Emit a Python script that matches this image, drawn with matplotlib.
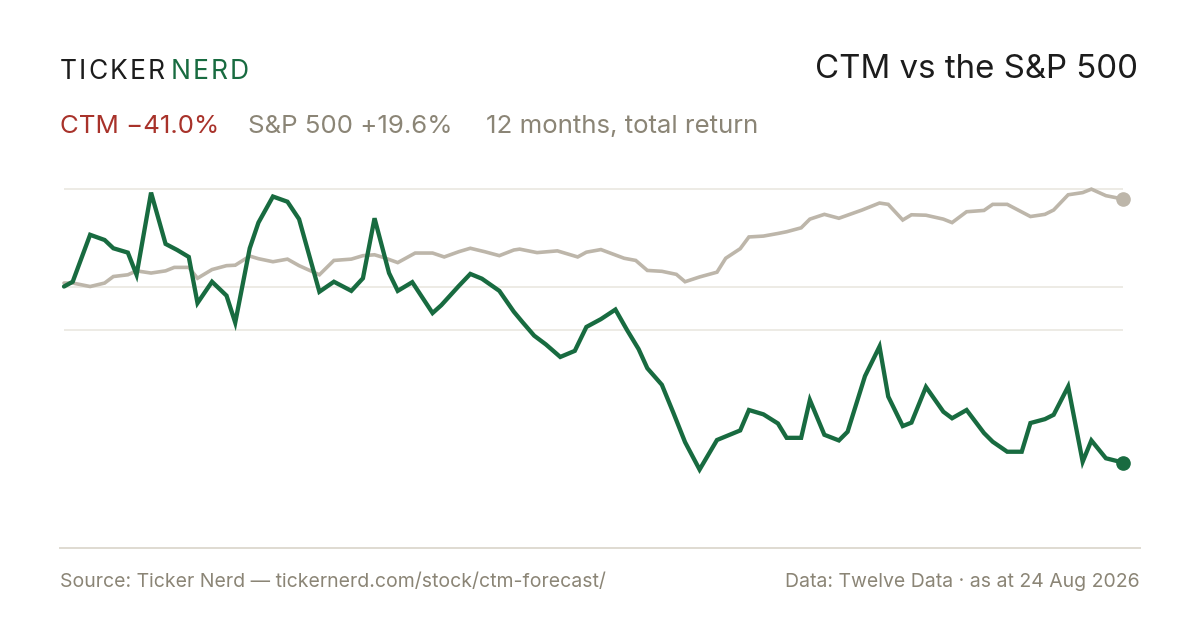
import matplotlib
matplotlib.use("Agg")
import matplotlib.pyplot as plt
from matplotlib.lines import Line2D

# ---------------- data ----------------
ctm_days = [0, 3, 9, 14, 17, 22, 25, 30, 35, 39, 43, 46, 51, 56, 59, 64, 67, 72, 77, 81,
            88, 93, 99, 103, 107, 112, 115, 120, 127, 130, 136, 140, 144, 150, 155, 158,
            162, 166, 171, 176, 180, 185, 190, 194, 198, 201, 206, 210, 214, 219, 225,
            233, 236, 241, 246, 249, 254, 257, 262, 267, 270, 276, 281, 284, 289, 292,
            297, 303, 306, 311, 317, 320, 325, 330, 333, 338, 341, 346, 351, 354, 359, 365]
ctm_ret = [-0.5, 0.6, 11.4, 10.2, 8.3, 7.3, 2.2, 21.1, 9.3, 7.9, 6.3, -4.3, 0.6, -2.6, -8.8,
           8.3, 14.2, 20.2, 19.0, 15.0, -1.7, 0.6, -1.5, 1.4, 15.2, 2.6, -1.5, 0.5, -6.6,
           -4.8, -0.4, 2.4, 1.3, -1.5, -6.3, -8.7, -11.8, -13.8, -16.7, -15.3, -9.8, -8.0,
           -5.8, -10.5, -14.9, -19.3, -23.1, -29.6, -36.3, -42.6, -35.8, -33.6, -28.9,
           -29.9, -32.0, -35.3, -35.3, -26.6, -34.6, -35.9, -33.9, -21.1, -14.3, -25.8,
           -32.6, -31.8, -23.6, -29.3, -30.8, -28.9, -34.2, -36.2, -38.5, -38.5, -31.9,
           -31.0, -30.0, -23.5, -40.8, -35.9, -40.0, -41.0]

spx_days = [0, 3, 9, 14, 17, 22, 25, 30, 35, 38, 43, 46, 51, 56, 59, 64, 67, 72, 77, 81,
            88, 93, 99, 103, 107, 110, 115, 121, 127, 131, 136, 140, 145, 150, 155, 157,
            163, 170, 177, 180, 185, 189, 193, 197, 201, 206, 211, 214, 219, 225, 228,
            233, 236, 241, 246, 249, 254, 257, 262, 267, 275, 281, 284, 289, 292, 297,
            303, 306, 311, 317, 320, 325, 329, 333, 338, 341, 346, 351, 354, 359, 365]
spx_ret = [0.3, 0.3, -0.5, 0.3, 1.8, 2.2, 3.1, 2.6, 3.1, 3.9, 3.9, 1.4, 3.4, 4.3, 4.4, 6.5,
           5.9, 5.2, 5.8, 4.3, 2.2, 5.5, 5.8, 6.6, 6.8, 6.2, 5.0, 7.2, 7.2, 6.3, 7.5, 8.3,
           7.5, 6.6, 7.9, 8.1, 7.3, 7.7, 6.3, 7.4, 8.0, 7.0, 6.0, 5.5, 3.2, 3.0, 2.3, 0.6,
           1.7, 2.8, 6.0, 8.2, 10.9, 11.1, 11.7, 12.1, 13.0, 15.0, 16.1, 15.2, 17.1, 18.7,
           18.4, 14.8, 16.0, 15.9, 15.0, 14.2, 16.7, 17.0, 18.4, 18.4, 17.0, 15.6, 16.1,
           17.1, 20.6, 21.1, 21.9, 20.4, 19.6]

grid_levels = [21.9, -0.5, -10.4]

brand_left = "TICKER"
brand_right = "NERD"
title = "CTM vs the S&P 500"
ctm_label = "CTM \u221241.0%"
spx_label = "S&P 500 +19.6%"
period_label = "12 months, total return"
source_text = "Source: Ticker Nerd \u2014 tickernerd.com/stock/ctm-forecast/"
data_text = "Data: Twelve Data \u00b7 as at 24 Aug 2026"

# ---------------- style ----------------
GREEN = "#186b40"
SPX = "#bdb6aa"
RED = "#a8322a"
MUTED = "#8b8576"
DARK = "#1c1c1c"
GRID = "#ece9e3"
RULE = "#dfdbd1"

plt.rcParams['font.family'] = ['Inter', 'DejaVu Sans']

W, H = 1200, 630
fig = plt.figure(figsize=(12, 6.3), dpi=100)
fig.patch.set_facecolor("white")


def fx(px):
    return px / W


def fy(py):
    return 1 - py / H


ax = fig.add_axes([fx(64), fy(500), (1123.3 - 64) / W, 320 / H])
ax.set_xlim(0, 365)
ax.set_ylim(-49.6, 24.0)
ax.axis("off")

for lvl in grid_levels:
    ax.axhline(lvl, color=GRID, lw=1.3, zorder=0)

ax.plot(spx_days, spx_ret, color=SPX, lw=2.6, solid_joinstyle="miter",
        solid_capstyle="round", zorder=2, clip_on=False)
ax.plot(spx_days[-1:], spx_ret[-1:], "o", color=SPX, ms=9.5, zorder=3, clip_on=False)
ax.plot(ctm_days, ctm_ret, color=GREEN, lw=3.1, solid_joinstyle="miter",
        solid_capstyle="round", zorder=4, clip_on=False)
ax.plot(ctm_days[-1:], ctm_ret[-1:], "o", color=GREEN, ms=9.5, zorder=5, clip_on=False)

# separator rule
fig.add_artist(Line2D([fx(60), fx(1140)], [fy(548), fy(548)], color=RULE, lw=1.4))

# brand with letter tracking
fig.canvas.draw()
renderer = fig.canvas.get_renderer()
x = 60.0
track = 2.0
for word, col, gap in ((brand_left, DARK, 4.5), (brand_right, GREEN, 0)):
    for ch in word:
        t = fig.text(fx(x), fy(79), ch, fontsize=19, color=col, va="baseline", ha="left")
        bb = t.get_window_extent(renderer)
        x += bb.width + track
    x += gap

fig.text(fx(1138), fy(78), title, fontsize=23.8, color=DARK, ha="right", va="baseline")

fig.text(fx(60), fy(133), ctm_label, fontsize=18.6, color=RED, ha="left", va="baseline")
fig.text(fx(248), fy(133), spx_label, fontsize=18.6, color=MUTED, ha="left", va="baseline")
fig.text(fx(486), fy(133), period_label, fontsize=18.6, color=MUTED, ha="left", va="baseline")

fig.text(fx(60), fy(587), source_text, fontsize=14, color=MUTED, ha="left", va="baseline")
fig.text(fx(1140), fy(587), data_text, fontsize=14, color=MUTED, ha="right", va="baseline")

fig.savefig("out.png", dpi=100, facecolor="white")
